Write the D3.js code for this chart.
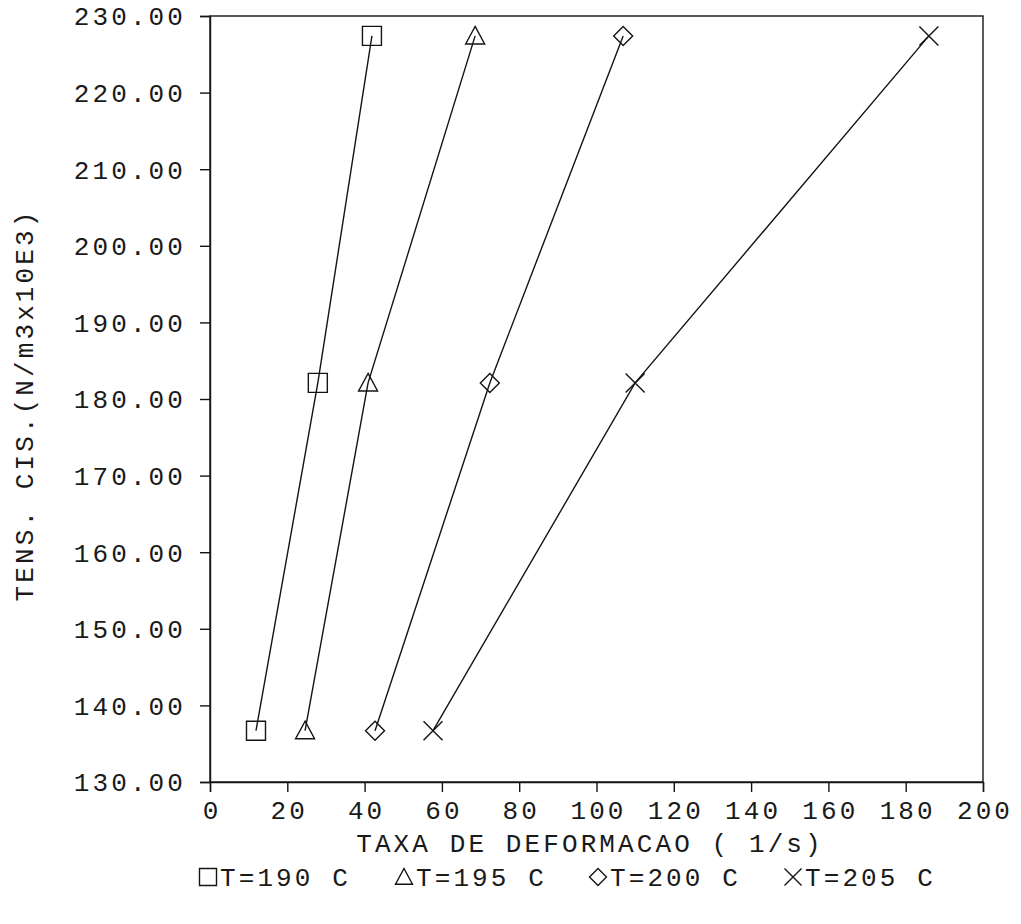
<!DOCTYPE html>
<html><head><meta charset="utf-8">
<script src="https://cdn.jsdelivr.net/npm/d3@7"></script>
<style>
html,body{margin:0;padding:0;background:#fff;}
text{font-family:"Liberation Mono","DejaVu Sans Mono",monospace;fill:#1a1a1a;}
</style></head>
<body>
<svg id="c" width="1021" height="924"></svg>
<script>
// ---- data ----
const seriesNames = ["T=190 C", "T=195 C", "T=200 C", "T=205 C"];
const shearStress = [136.7, 182.1, 227.4];
const rateT190 = [11.9, 27.9, 41.9];
const rateT195 = [24.6, 40.9, 68.6];
const rateT200 = [42.7, 72.4, 106.9];
const rateT205 = [57.7, 110.0, 186.0];
const xTicks = [0, 20, 40, 60, 80, 100, 120, 140, 160, 180, 200];
const yTicks = [130, 140, 150, 160, 170, 180, 190, 200, 210, 220, 230];
const xTitle = "TAXA DE DEFORMACAO ( 1/s)";
const yTitle = "TENS. CIS.(N/m3x10E3)";

const seriesRates = [rateT190, rateT195, rateT200, rateT205];
const markers = ["square", "triangle", "diamond", "x"];

const svg = d3.select("#c");
const L = 210, R = 983, T = 16, B = 782;
const x = d3.scaleLinear().domain([0, 200]).range([L, R]);
const y = d3.scaleLinear().domain([130, 230]).range([B, T]);

const ink = "#141414";
const sw = 1.4;

function markerPath(type, r) {
  const p = d3.path();
  if (type === "square") { p.rect(-r, -r, 2*r, 2*r); }
  else if (type === "triangle") { p.moveTo(0, -r*1.0); p.lineTo(r, r*0.85); p.lineTo(-r, r*0.85); p.closePath(); }
  else if (type === "diamond") { p.moveTo(0, -r); p.lineTo(r, 0); p.lineTo(0, r); p.lineTo(-r, 0); p.closePath(); }
  else { p.moveTo(-r, -r); p.lineTo(r, r); p.moveTo(r, -r); p.lineTo(-r, r); }
  return p.toString();
}

// frame
svg.append("rect").attr("x", L).attr("y", T).attr("width", R-L).attr("height", B-T)
  .attr("fill", "none").attr("stroke", ink).attr("stroke-width", sw);

// axes
const fs = 26, ls = 3.1;
const yAxis = svg.append("g").attr("transform", `translate(${L},0)`)
  .call(d3.axisLeft(y).tickValues(yTicks).tickSize(10).tickFormat(d3.format(".2f")));
const xAxis = svg.append("g").attr("transform", `translate(0,${B})`)
  .call(d3.axisBottom(x).tickValues(xTicks).tickSize(10).tickFormat(d3.format("d")));
[yAxis, xAxis].forEach(g => {
  g.select(".domain").attr("stroke", ink).attr("stroke-width", sw);
  g.selectAll(".tick line").attr("stroke", ink).attr("stroke-width", sw);
  g.selectAll(".tick text").attr("font-size", fs).attr("letter-spacing", ls)
    .attr("font-family", "Liberation Mono").attr("fill", "#1a1a1a");
});
yAxis.selectAll(".tick text").attr("x", -24).attr("dy", "0.34em");
xAxis.selectAll(".tick text").attr("y", 0).attr("dy", 0)
  .attr("transform", "translate(1.5,37)");

// titles
svg.append("text").attr("x", 590).attr("y", 852).attr("text-anchor", "middle")
  .attr("font-size", fs).attr("letter-spacing", ls).text(xTitle);
svg.append("text").attr("transform", "translate(33,405) rotate(-90)")
  .attr("text-anchor", "middle").attr("font-size", fs).attr("letter-spacing", ls).text(yTitle);

// series
const line = d3.line().x(d => x(d[0])).y(d => y(d[1])).curve(d3.curveLinear);
seriesRates.forEach((rates, i) => {
  const pts = rates.map((r, j) => [r, shearStress[j]]);
  svg.append("path").attr("d", line(pts)).attr("fill", "none")
    .attr("stroke", ink).attr("stroke-width", sw);
  svg.selectAll(null).data(pts).enter().append("path")
    .attr("transform", d => `translate(${x(d[0])},${y(d[1])})`)
    .attr("d", markerPath(markers[i], 9.5))
    .attr("fill", "none").attr("stroke", ink).attr("stroke-width", sw);
});

// legend
const legX = [208, 404, 598, 793];
const legY = 877;
seriesNames.forEach((n, i) => {
  svg.append("path").attr("transform", `translate(${legX[i]},${legY})`)
    .attr("d", markerPath(markers[i], 8.5))
    .attr("fill", "none").attr("stroke", ink).attr("stroke-width", sw);
  svg.append("text").attr("x", legX[i] + 12).attr("y", legY + 9)
    .attr("font-size", fs).attr("letter-spacing", ls).text(n);
});
</script>
</body></html>
